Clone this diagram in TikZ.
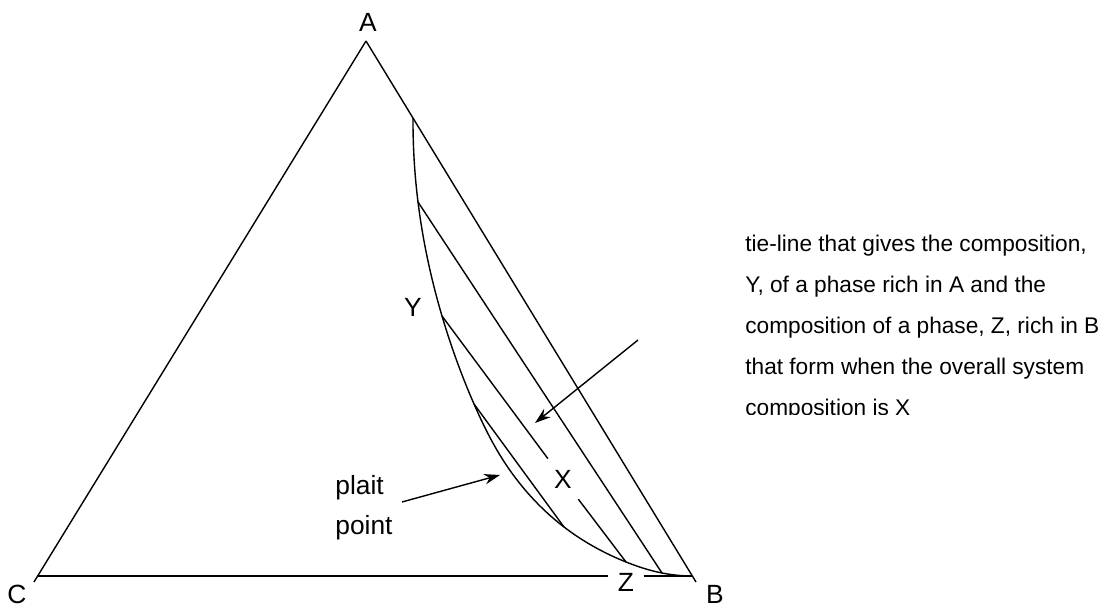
\documentclass[tikz,border=0pt]{standalone}
\usepackage{fontspec}
\setmainfont{Liberation Sans}
\usetikzlibrary{arrows.meta, hobby}
\tikzset{
  side/.style={draw=black, line width=0.8pt},
  tie/.style={draw=black, line width=0.8pt},
  pointer/.style={draw=black, line width=0.8pt, -{Stealth[length=9pt, width=6pt]}},
  corner/.style={font=\fontsize{15}{17}\selectfont, inner sep=1pt},
  note/.style={font=\fontsize{12.9}{23.3}\selectfont, align=left, inner sep=0pt, anchor=north west},
}

\begin{document}
\begin{tikzpicture}[x=0.02cm, y=-0.02cm]
\useasboundingbox (0,0) rectangle (1107,607);

% corners of the triangle
\coordinate (A) at (366,41);
\coordinate (Cs) at (34,582);
\coordinate (Cb) at (37,576);
\coordinate (Bs) at (696,582);
\coordinate (Bb) at (692,576);

\node[corner] (lA) at (368,22) {A};
\node[corner] (lC) at (17,594) {C};
\node[corner] (lB) at (715,594) {B};
\node[corner, minimum width=0.7cm] (Z) at (626,582) {Z};

\draw[side] (A) -- (Cs);
\draw[side] (A) -- (Bs);
\draw[side] (Cb) -- (Cb -| Z.west);
\draw[side] (Z.east |- Bb) -- (Bb);

% binodal curve
\coordinate (top) at (413,118);
\coordinate (y1) at (418,202);
\coordinate (y2) at (442,316);
\coordinate (y3) at (474,404);
\coordinate (z3) at (564,527);
\coordinate (z2) at (626,562);
\coordinate (z1) at (662,573);
\draw[side, use Hobby shortcut] (top) .. (y1) .. (y2) .. (y3) .. (503,460) .. (z3) .. (z2) .. (z1) .. (Bb);

% tie-lines
\node[corner] (Y) at (413,307) {Y};
\node[corner, circle, minimum size=1cm, inner sep=0pt] (X) at (563,479) {X};
\draw[tie] (y1) -- (z1);
\draw[tie] (y2) -- (X);
\draw[tie] (X) -- (z2);
\draw[tie] (y3) -- (z3);

% notes
\begin{scope}
\clip (700,200) rectangle (1107,415);
\node[note] (tieline) at (745,235) {tie-line that gives the composition,\\
  Y, of a phase rich in A and the\\
  composition of a phase, Z, rich in B\\
  that form when the overall system\\
  composition is X};
\end{scope}
\node[note, font=\fontsize{15}{22.8}\selectfont] (plait) at (335,475) {plait\\point};

\coordinate (n1) at (638,340);
\coordinate (n1e) at (535,423);
\coordinate (n2) at (402,502);
\coordinate (n2e) at (500,475);
\draw[pointer] (n1) -- (n1e);
\draw[pointer] (n2) -- (n2e);

\end{tikzpicture}
\end{document}
